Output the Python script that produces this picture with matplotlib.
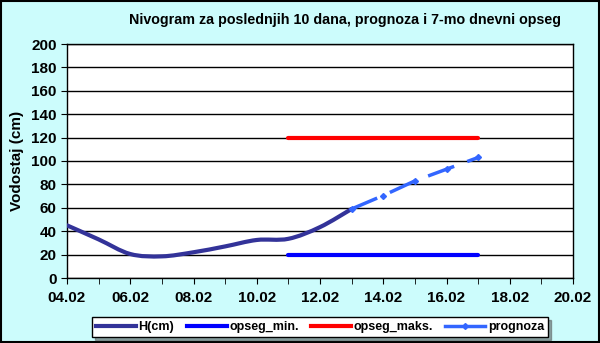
"""
Nivogram: vodostaj za poslednjih 10 dana, prognoza i 7-mo dnevni opseg
"""
import matplotlib
matplotlib.use('Agg')
import matplotlib.pyplot as plt
from matplotlib.path import Path
from matplotlib.patches import PathPatch, Rectangle
from matplotlib.lines import Line2D

plt.rcParams['font.family'] = ['Liberation Sans', 'DejaVu Sans']

# podaci (dan u februaru)
dani_h = [4, 5, 6, 7, 8, 9, 10, 11, 12, 13]
vodostaj_h = [45, 33, 20.5, 18.5, 22, 27, 32.5, 33.5, 43.5, 59]

dani_opseg = [11, 17]
opseg_min = [20, 20]
opseg_maks = [120, 120]

dani_prognoza = [13, 14, 15, 16, 17]
vodostaj_prognoza = [59, 70.5, 83, 93, 103]

tick_dani = [4, 6, 8, 10, 12, 14, 16, 18, 20]
tick_labele = ['04.02', '06.02', '08.02', '10.02', '12.02', '14.02', '16.02', '18.02', '20.02']

POZADINA = '#ccfcfc'
BOJA_H = '#333399'
BOJA_MIN = '#0000ff'
BOJA_MAKS = '#ff0000'
BOJA_PROG = '#3366ff'


def glatka_putanja(x, y):
    """Excel-oliki zaglađeni put (Bezier) kroz tačke."""
    verts = [(x[0], y[0])]
    codes = [Path.MOVETO]
    n = len(x)
    for i in range(n - 1):
        x0, y0 = (x[i - 1], y[i - 1]) if i > 0 else (x[i], y[i])
        x3, y3 = (x[i + 2], y[i + 2]) if i + 2 < n else (x[i + 1], y[i + 1])
        c1 = (x[i] + (x[i + 1] - x0) / 6, y[i] + (y[i + 1] - y0) / 6)
        c2 = (x[i + 1] - (x3 - x[i]) / 6, y[i + 1] - (y3 - y[i]) / 6)
        verts += [c1, c2, (x[i + 1], y[i + 1])]
        codes += [Path.CURVE4] * 3
    return Path(verts, codes)


fig = plt.figure(figsize=(6.0, 3.43), dpi=100, facecolor=POZADINA)
ax = fig.add_axes([67 / 600, 1 - 278 / 343, 506 / 600, 234 / 343])
ax.set_facecolor('white')

# okvir slike
fig.patches.append(Rectangle((0.001, 0.002), 0.997, 0.995, transform=fig.transFigure,
                             fill=False, edgecolor='black', linewidth=1.5))

ax.plot(dani_opseg, opseg_min, color=BOJA_MIN, linewidth=3, solid_capstyle='round',
        zorder=3)
ax.plot(dani_opseg, opseg_maks, color=BOJA_MAKS, linewidth=3, solid_capstyle='round',
        zorder=3)

ax.add_patch(PathPatch(glatka_putanja(dani_h, vodostaj_h), facecolor='none',
                       edgecolor=BOJA_H, linewidth=3, capstyle='round', zorder=4))

ax.plot(dani_prognoza, vodostaj_prognoza, color=BOJA_PROG, linewidth=2.5,
        linestyle=(0, (8, 4)), marker='D', markersize=3, zorder=4)

ax.set_xlim(4, 20)
ax.set_ylim(0, 200)
ax.set_xticks(tick_dani)
ax.set_xticklabels(tick_labele)
ax.set_xticks(range(4, 21), minor=True)
ax.set_yticks(range(0, 201, 20))
ax.grid(axis='y', color='black', linewidth=1)
ax.tick_params(axis='both', which='both', direction='out', length=4, color='black')
ax.tick_params(axis='x', which='major', pad=5)
for lab in ax.get_xticklabels() + ax.get_yticklabels():
    lab.set_fontweight('bold')
    lab.set_fontsize(11)
for s in ax.spines.values():
    s.set_color('black')
    s.set_linewidth(1)

ax.set_ylabel('Vodostaj (cm)', fontsize=11, fontweight='bold', labelpad=5)
fig.text(345 / 600, 1 - 20 / 343, 'Nivogram za poslednjih 10 dana, prognoza i 7-mo dnevni opseg',
         ha='center', va='center', fontsize=10.3, fontweight='bold')

rucke = [Line2D([], [], color=BOJA_H, linewidth=3),
         Line2D([], [], color=BOJA_MIN, linewidth=3),
         Line2D([], [], color=BOJA_MAKS, linewidth=3),
         Line2D([], [], color=BOJA_PROG, linewidth=2.5, marker='D', markersize=3)]
leg = fig.legend(rucke, ['H(cm)', 'opseg_min.', 'opseg_maks.', 'prognoza'],
                 loc='center', bbox_to_anchor=(320 / 600, 1 - 327 / 343), ncol=4,
                 fontsize=9, frameon=True, fancybox=False, shadow=True,
                 handlelength=3.2, handletextpad=0.2, columnspacing=1.0,
                 borderpad=0.3, edgecolor='black')
leg.get_frame().set_linewidth(1)
for t in leg.get_texts():
    t.set_fontweight('bold')

fig.savefig('out.png', dpi=100, facecolor=POZADINA)
